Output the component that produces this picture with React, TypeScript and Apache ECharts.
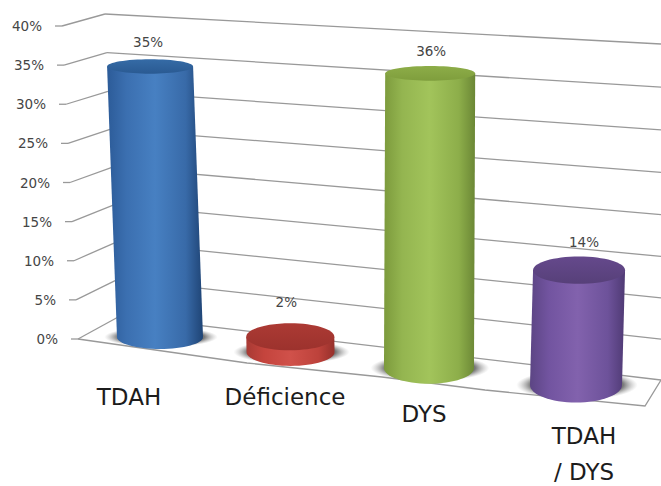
import React, { useEffect, useRef } from "react";
import * as echarts from "echarts";

const categories = ["TDAH", "Déficience", "DYS", "TDAH\n/ DYS"];
const values = [35, 2, 36, 14];
const ticks = [0, 5, 10, 15, 20, 25, 30, 35, 40];
const axisMax = 40;

const W = 661;
const H = 486;

type Pt = [number, number];
type Quad = [Pt, Pt, Pt, Pt];

// Projective map from the unit square; corners go (0,0), (1,0), (1,1), (0,1).
function makeHomography(q: Quad) {
  const [[x0, y0], [x1, y1], [x2, y2], [x3, y3]] = q;
  const dx1 = x1 - x2, dx2 = x3 - x2, sx = x0 - x1 + x2 - x3;
  const dy1 = y1 - y2, dy2 = y3 - y2, sy = y0 - y1 + y2 - y3;
  const den = dx1 * dy2 - dx2 * dy1;
  const g = (sx * dy2 - dx2 * sy) / den;
  const h = (dx1 * sy - sx * dy1) / den;
  const a = x1 - x0 + g * x1, b = x3 - x0 + h * x3;
  const d = y1 - y0 + g * y1, e = y3 - y0 + h * y3;
  return (u: number, v: number): Pt => {
    const w = g * u + h * v + 1;
    return [(a * u + b * v + x0) / w, (d * u + e * v + y0) / w];
  };
}

// Back wall of the 3D box, and the plane the cylinder axes stand in.
const backWall = makeHomography([[120, 316], [661, 380], [661, 44], [105, 14]]);
const barPlane = makeHomography([[160, 337], [576, 385], [585, 46], [148.6, 26]]);

// Front edge of the left wall, bottom then top.
const frontBottom: Pt = [78, 339];
const frontTop: Pt = [62, 26];
const frontEdge = (v: number): Pt => [
  frontBottom[0] + (frontTop[0] - frontBottom[0]) * v,
  frontBottom[1] + (frontTop[1] - frontBottom[1]) * v,
];

const floorFront: Pt[] = [[78, 339], [247, 363], [382, 377], [485, 390], [645, 406], [661, 380]];

// Side gradient stops (edge, centre, far edge) and cap colour per cylinder.
const sideColors = [
  ["#2c5b98", "#3b6fb0", "#4780c2", "#386aa8", "#1f4475"],
  ["#a83a34", "#c4443d", "#d0514a", "#bd423b", "#96302b"],
  ["#7c9a3c", "#94b550", "#a2c45b", "#8dae4a", "#6b8735"],
  ["#5c4584", "#7254a0", "#8262ad", "#6d529a", "#4f3a74"],
];
const capColors = [
  ["#2a5a92", "#356ba6"],
  ["#9c322d", "#ac3a34"],
  ["#7f9e3d", "#8dad48"],
  ["#574079", "#65498c"],
];
const labelLift = [24, 35, 22, 28];
const labelShift = [-2, -4, 1, 5];

const categorySpots: Pt[] = [[129, 397], [285, 397], [424, 414], [584, 454]];

const gridColor = "#999999";
const textColor = "#454545";
const font = "13.5px 'DejaVu Sans', sans-serif";

function fracs(api: any, i: number, v: number) {
  const p = api.coord([i, v]);
  return { u: p[0] / W, v: (H - p[1]) / H };
}

function renderFrame(_: any, api: any) {
  const t = api.value(1);
  const { v } = fracs(api, 0, t);
  const front = frontEdge(v);
  const back = backWall(0, v);
  const right = backWall(1, v);
  const line = (a: Pt, b: Pt) => ({
    type: "line",
    shape: { x1: a[0], y1: a[1], x2: b[0], y2: b[1] },
    style: { stroke: gridColor, lineWidth: 1.3 },
  });
  return {
    type: "group",
    children: [
      line([front[0] - 7, front[1]], front),
      line(front, back),
      line(back, right),
      {
        type: "text",
        style: {
          x: front[0] - 20, y: front[1], text: `${t}%`,
          fill: textColor, font, align: "right", verticalAlign: "middle",
        },
      },
    ],
  };
}

function renderBar(_: any, api: any) {
  const i = api.value(0);
  const val = api.value(1);
  const base = fracs(api, i, 0);
  const top = fracs(api, i, val);
  const uu = (base.u - 1 / 8) / (3 / 4);
  const b = barPlane(uu, base.v);
  const c = barPlane(uu, top.v);
  const rx = 43 + 3 * uu;
  const ryB = 12 + 5.5 * uu;
  const ryT = ryB + (6.5 - ryB) * top.v;

  // Outline of the side wall: down the right, round the bottom rim, up the left.
  const pts: number[][] = [[c[0] - rx, c[1]], [c[0] + rx, c[1]]];
  for (let k = 0; k <= 32; k++) {
    const a = (Math.PI * k) / 32;
    pts.push([b[0] + rx * Math.cos(a), b[1] + ryB * Math.sin(a)]);
  }
  const s = sideColors[i];
  const cap = capColors[i];
  return {
    type: "group",
    children: [
      {
        type: "ellipse",
        shape: { cx: b[0] + 1, cy: b[1], rx: rx * 1.32, ry: ryB * 0.85 },
        style: {
          fill: new echarts.graphic.RadialGradient(0.5, 0.5, 0.5, [
            { offset: 0, color: "rgba(80,80,80,0.9)" },
            { offset: 0.76, color: "rgba(95,95,95,0.85)" },
            { offset: 1, color: "rgba(170,170,170,0)" },
          ]),
        },
      },
      {
        type: "polygon",
        shape: { points: pts },
        style: {
          fill: new echarts.graphic.LinearGradient(0, 0, 1, 0, [
            { offset: 0, color: s[0] },
            { offset: 0.2, color: s[1] },
            { offset: 0.5, color: s[2] },
            { offset: 0.82, color: s[3] },
            { offset: 1, color: s[4] },
          ]),
        },
      },
      {
        type: "ellipse",
        shape: { cx: c[0], cy: c[1], rx, ry: ryT },
        style: {
          fill: new echarts.graphic.LinearGradient(0, 0, 0, 1, [
            { offset: 0, color: cap[1] },
            { offset: 1, color: cap[0] },
          ]),
        },
      },
      {
        type: "text",
        style: {
          x: c[0] + labelShift[i], y: c[1] - labelLift[i], text: `${val}%`,
          fill: textColor, font,
          align: "center", verticalAlign: "middle",
        },
      },
    ],
  };
}

export default function App() {
  const ref = useRef<HTMLDivElement>(null);
  useEffect(() => {
    const chart = echarts.init(ref.current!, undefined, { renderer: "svg" });
    chart.setOption({
      animation: false,
      backgroundColor: "#fff",
      grid: { left: 0, right: 0, top: 0, bottom: 0 },
      xAxis: { type: "category", data: categories, show: false },
      yAxis: { type: "value", min: 0, max: axisMax, interval: 5, show: false },
      graphic: [
        {
          type: "polyline",
          z: 1,
          shape: { points: floorFront },
          style: { stroke: gridColor, lineWidth: 1.3, fill: "none" },
        },
        ...categories.map((name, i) => ({
          type: "text",
          x: categorySpots[i][0],
          y: categorySpots[i][1],
          z: 5,
          style: {
            text: name,
            fill: "#1c1c1c",
            font: "23px 'DejaVu Sans', sans-serif",
            lineHeight: 36,
            align: "center",
            verticalAlign: "middle",
          },
        })),
      ],
      series: [
        {
          type: "custom",
          z: 2,
          silent: true,
          clip: false,
          renderItem: renderFrame,
          data: ticks.map((t) => [0, t]),
        },
        {
          type: "custom",
          z: 3,
          silent: true,
          clip: false,
          renderItem: renderBar,
          data: values.map((v, i) => [i, v]),
        },
      ],
    });
    return () => chart.dispose();
  }, []);
  return (
    <div
      ref={ref}
      style={{ position: "fixed", left: 0, top: 0, width: W, height: H }}
    />
  );
}
